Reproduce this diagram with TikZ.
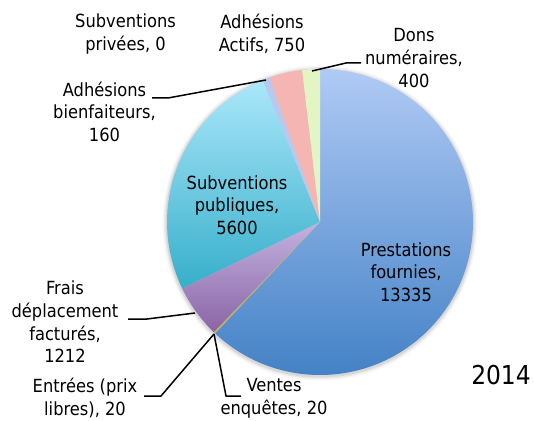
\documentclass[tikz,border=0pt]{standalone}
\usepackage{fontspec}
\setmainfont{DejaVu Sans Condensed}
\definecolor{txt}{HTML}{000000}
\definecolor{prestT}{HTML}{B0CAF5}
\definecolor{prestB}{HTML}{4482C6}
\definecolor{publT}{HTML}{ABE7FA}
\definecolor{publB}{HTML}{37AFCA}
\definecolor{fraisT}{HTML}{C3B3E0}
\definecolor{fraisB}{HTML}{8A64A5}
\definecolor{bienfC}{HTML}{B8C8EE}
\definecolor{actifC}{HTML}{F5B6B3}
\definecolor{donsC}{HTML}{E2F5C3}
\definecolor{ventC}{HTML}{F0A050}
\definecolor{entrC}{HTML}{9BBB59}
\tikzset{
  lbl/.style={inner sep=0pt, align=center, text=txt, font=\fontsize{18.1}{22.6}\selectfont},
  leader/.style={draw=black, line width=1.5pt, line join=round}
}
\newcommand{\sector}[2]{(320,198) -- ++(#1:153) arc[start angle=#1, end angle=#2, radius=153] -- cycle}
\begin{document}
\begin{tikzpicture}[x=1pt,y=1pt]
\useasboundingbox (0,0) rectangle (534,420);
\fill[white] (0,0) rectangle (534,420);
% soft shadow
\foreach \r/\o in {157.5/0.03,156/0.05,154.5/0.08}{\fill[black,opacity=\o] (320,197) circle[radius=\r];}
% Prestations
\begin{scope}\clip \sector{226.69}{450};
\shade[top color=prestT,bottom color=prestB] (160,45) rectangle (480,351);
\end{scope}
% Ventes, Entrees
\fill[ventC] \sector{226.35}{226.69};
\fill[entrC] \sector{226.02}{226.35};
% Frais
\begin{scope}\clip \sector{205.72}{226.02};
\shade[top color=fraisT,bottom color=fraisB] (160,88) rectangle (330,198);
\end{scope}
% Subventions publiques
\begin{scope}\clip \sector{111.94}{205.72};
\shade[top color=publT,bottom color=publB] (160,132) rectangle (330,340);
\end{scope}
\fill[bienfC] \sector{109.26}{111.94};
\fill[actifC] \sector{96.70}{109.26};
\fill[donsC] \sector{90}{96.70};

% labels
\node[lbl] (privees) at (125.5,386) {Subventions\\privées, 0};
\node[lbl] (actifs) at (262,386) {Adhésions\\Actifs, 750};
\node[lbl] (dons) at (414,362) {Dons\\numéraires,\\400};
\node[lbl] (bienf) at (104.5,308.5) {Adhésions\\bienfaiteurs,\\160};
\node[lbl] (publ) at (237,215) {Subventions\\publiques,\\5600};
\node[lbl] (prest) at (406,148) {Prestations\\fournies,\\13335};
\node[lbl] (frais) at (65,98) {Frais\\déplacement\\facturés,\\1212};
\node[lbl] (entrees) at (85,22) {Entrées (prix\\libres), 20};
\node[lbl] (ventes) at (274,22) {Ventes\\enquêtes, 20};
\node[inner sep=0pt, text=txt, font=\fontsize{26}{30}\selectfont] (year) at (501,45) {2014};

% leader coordinates
\coordinate (bA) at (152,322); \coordinate (bB) at (168,322); \coordinate (bP) at (266,340);
\coordinate (dA) at (361,357); \coordinate (dB) at (346,357); \coordinate (dP) at (312,349);
\coordinate (fA) at (128,101); \coordinate (fB) at (147,101); \coordinate (fP) at (195,107);
\coordinate (eA) at (144,24); \coordinate (eB) at (161,24); \coordinate (eP) at (214,86);
\coordinate (vA) at (241,24); \coordinate (vB) at (226,24);
\draw[leader] (bA) -- (bB) -- (bP);
\draw[leader] (dA) -- (dB) -- (dP);
\draw[leader] (fA) -- (fB) -- (fP);
\draw[leader] (eA) -- (eB) -- (eP);
\draw[leader] (eP) -- (vB) -- (vA);
\end{tikzpicture}
\end{document}
